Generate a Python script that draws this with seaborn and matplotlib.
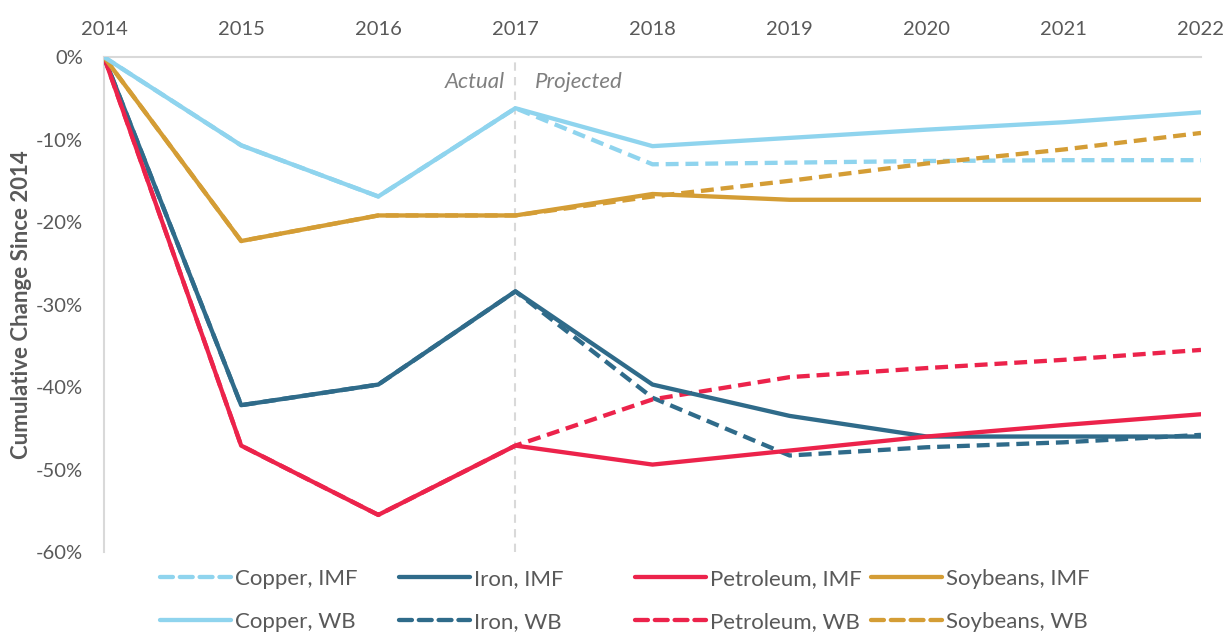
import pandas as pd
import seaborn as sns
import matplotlib.pyplot as plt
from matplotlib.ticker import FuncFormatter
from matplotlib.lines import Line2D

years = [2014, 2015, 2016, 2017, 2018, 2019, 2020, 2021, 2022]

# cumulative change since 2014, in percent
copper_imf = [0, -10.7, -16.9, -6.2, -13.0, -12.8, -12.6, -12.5, -12.5]
copper_wb = [0, -10.7, -16.9, -6.2, -10.8, -9.8, -8.8, -7.9, -6.7]
iron_imf = [0, -42.2, -39.7, -28.4, -39.7, -43.5, -46.0, -46.0, -46.0]
iron_wb = [0, -42.2, -39.7, -28.4, -41.3, -48.3, -47.3, -46.7, -45.8]
petroleum_imf = [0, -47.1, -55.5, -47.1, -49.4, -47.7, -46.0, -44.6, -43.3]
petroleum_wb = [0, -47.1, -55.5, -47.1, -41.5, -38.8, -37.7, -36.7, -35.5]
soybeans_imf = [0, -22.3, -19.2, -19.2, -16.6, -17.3, -17.3, -17.3, -17.3]
soybeans_wb = [0, -22.3, -19.2, -19.2, -16.9, -15.0, -12.9, -11.2, -9.2]

commodities = ["Copper", "Iron", "Petroleum", "Soybeans"]
series_names = ["Copper, IMF", "Iron, IMF", "Petroleum, IMF", "Soybeans, IMF",
                "Copper, WB", "Iron, WB", "Petroleum, WB", "Soybeans, WB"]
series_values = [copper_imf, iron_imf, petroleum_imf, soybeans_imf,
                 copper_wb, iron_wb, petroleum_wb, soybeans_wb]

colors = {"Copper": "#8FD4EE", "Iron": "#2F6B8A",
          "Petroleum": "#EC234B", "Soybeans": "#D49D35"}
dashed = {"Copper, IMF", "Iron, WB", "Petroleum, WB", "Soybeans, WB"}

rows = []
for name, vals in zip(series_names, series_values):
    for y, v in zip(years, vals):
        rows.append({"year": y, "change": v, "series": name})
df = pd.DataFrame(rows)

sns.set_style("white")
plt.rcParams["font.family"] = ["Lato", "DejaVu Sans"]

fig = plt.figure(figsize=(12.3, 6.34), dpi=100)
ax = fig.add_axes([0.0846, 0.1293, 0.8918, 0.7807])

ax.axvline(2017, color="#D9D9D9", lw=1.5, ls=(0, (4, 3)), zorder=1)

# dashed ones first so solid lines sit on top of the shared history
order = sorted(series_names, key=lambda s: s not in dashed)
handles = {}
for name in order:
    sub = df[df["series"] == name]
    col = colors[name.split(",")[0]]
    ls = (0, (3, 1.6)) if name in dashed else "-"
    sns.lineplot(data=sub, x="year", y="change", ax=ax, color=col,
                 linewidth=3.1, linestyle=ls, zorder=3)
    handles[name] = Line2D([], [], color=col, linewidth=3.1, linestyle=ls,
                           dash_capstyle="round", solid_capstyle="round")

ax.set_xlim(2014, 2022)
ax.set_ylim(-60, 0)
ax.set_xticks(years)
ax.set_yticks(range(-60, 1, 10))
ax.yaxis.set_major_formatter(FuncFormatter(lambda v, p: f"{int(v)}%"))
ax.xaxis.tick_top()
ax.tick_params(axis="both", length=0, labelsize=14.5, labelcolor="#595959")
ax.tick_params(axis="x", pad=14)
ax.tick_params(axis="y", pad=15)
ax.set_xlabel("")
ax.set_ylabel("Cumulative Change Since 2014", fontsize=16, fontweight="bold",
              color="#595959", labelpad=3)

for s in ["bottom", "right"]:
    ax.spines[s].set_visible(False)
for s in ["top", "left"]:
    ax.spines[s].set_color("#D9D9D9")
    ax.spines[s].set_linewidth(1.5)

ax.text(2016.92, -3.0, "Actual", style="italic", color="#808080", fontsize=16,
        ha="right", va="center")
ax.text(2017.14, -3.0, "Projected", style="italic", color="#808080", fontsize=16,
        ha="left", va="center")

# one small legend per commodity so the columns sit on an even grid
legend_x = [0.130, 0.324, 0.516, 0.708]
for c, lx in zip(commodities, legend_x):
    names = [f"{c}, IMF", f"{c}, WB"]
    fig.legend([handles[n] for n in names], names, loc="upper left",
               bbox_to_anchor=(lx, 0.103), frameon=False, fontsize=16,
               handlelength=3.2, handletextpad=0.2, labelspacing=1.05,
               borderpad=0, borderaxespad=0, labelcolor="#595959")

fig.savefig("out.png", dpi=100)
